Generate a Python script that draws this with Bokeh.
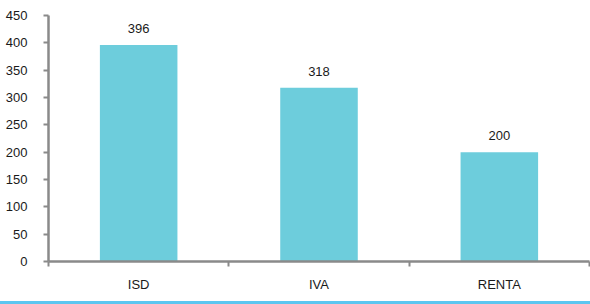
from bokeh.plotting import figure
from bokeh.models import FixedTicker, ColumnDataSource, Div, LabelSet
from bokeh.layouts import column
from bokeh.core.properties import value
from bokeh.embed import file_html
from bokeh.resources import INLINE

categories = ["ISD", "IVA", "RENTA"]
values = [396, 318, 200]
y_ticks = [0, 50, 100, 150, 200, 250, 300, 350, 400, 450]

xs = [i + 0.5 for i in range(len(categories))]
src = ColumnDataSource(dict(x=xs, top=values, label=[str(v) for v in values]))

p = figure(width=590, height=301, output_backend="svg", toolbar_location=None,
           x_range=(0, len(categories)), y_range=(0, 450),
           min_border_left=48, min_border_right=1, min_border_top=15, min_border_bottom=40)
p.outline_line_color = None
p.grid.visible = False

p.vbar(x="x", top="top", width=0.43, bottom=0, source=src, fill_color="#6dcddc", line_color=None)
labels = LabelSet(x="x", y="top", text="label", source=src, text_align="center",
                  text_baseline="bottom", y_offset=12, text_font=value("Liberation Sans"),
                  text_font_size="13px", text_color="#1a1a1a")
p.add_layout(labels)

axis_color = "#8a8a8a"
p.xaxis.ticker = FixedTicker(ticks=xs, minor_ticks=list(range(len(categories) + 1)))
p.xaxis.major_label_overrides = {x: c for x, c in zip(xs, categories)}
p.xaxis.major_tick_out = 0
p.xaxis.major_tick_in = 0
p.xaxis.minor_tick_out = 5
p.xaxis.minor_tick_in = 0
p.xaxis.minor_tick_line_color = axis_color
p.xaxis.minor_tick_line_width = 2
p.xaxis.major_label_standoff = 10

p.yaxis.ticker = FixedTicker(ticks=y_ticks)
p.yaxis.minor_tick_line_color = None
p.yaxis.major_tick_out = 5
p.yaxis.major_tick_in = 0
p.yaxis.major_tick_line_color = axis_color
p.yaxis.major_tick_line_width = 2
p.yaxis.major_label_standoff = 16

for ax in (p.xaxis, p.yaxis):
    ax.axis_line_color = axis_color
    ax.axis_line_width = 2.5
    ax.major_label_text_font = "Liberation Sans"
    ax.major_label_text_font_size = "13px"
    ax.major_label_text_color = "#1a1a1a"

bar = Div(text="", width=590, height=3, margin=0, styles={"background-color": "#5cc6f0"})
layout = column(p, bar, spacing=0)

open("out.html", "w").write(file_html(layout, INLINE))
